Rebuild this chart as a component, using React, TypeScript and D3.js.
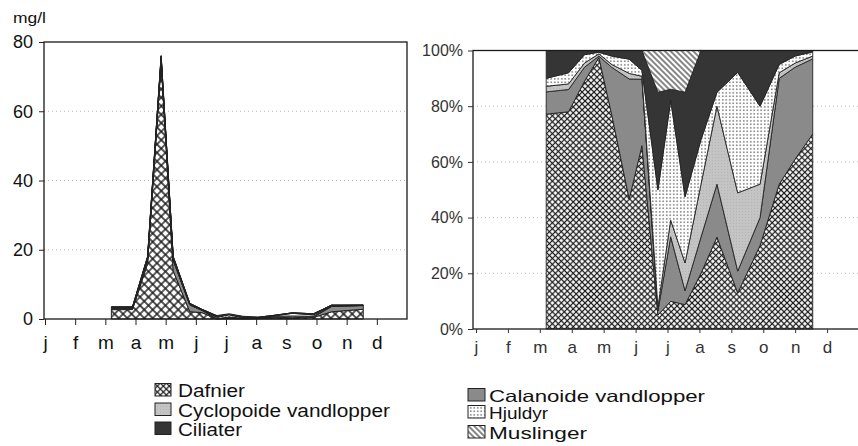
import React, { useRef, useEffect } from 'react';
import * as d3 from 'd3';

// sample dates as fractional months (0 = 1 Jan)
const sampleMonths = [2.2, 2.9, 3.4, 3.85, 4.25, 4.8, 5.2, 5.7, 6.1, 6.55, 7.05, 7.55, 8.2, 8.9, 9.5, 10.0, 10.55];

// biomass, mg/l
const dafnier = [2.7, 2.73, 16.0, 74.1, 13.9, 2.1, 1.85, 0.05, 0.15, 0.07, 0.1, 0.33, 0.23, 0.45, 2.08, 2.44, 2.8];
const calanoide = [0.28, 0.28, 0.9, 0.38, 3.06, 1.94, 0.67, 0.015, 0.35, 0.04, 0.065, 0.19, 0.14, 0.15, 1.52, 1.32, 1.08];
const cyclopoide = [0.07, 0.07, 0.27, 0.61, 0.18, 0.09, 0.03, 0.015, 0.09, 0.08, 0.095, 0.28, 0.5, 0.18, 0.08, 0.06, 0.04];
const hjuldyr = [0.1, 0.14, 0.54, 0.46, 0.54, 0.23, 0.06, 0.42, 0.65, 0.19, 0.08, 0.05, 0.77, 0.42, 0.12, 0.1, 0.06];
const ciliater = [0.35, 0.28, 0.27, 0.46, 0.36, 0.14, 0.2, 0.35, 0.06, 0.3, 0.16, 0.15, 0.14, 0.3, 0.2, 0.08, 0.02];
const muslinger = [0, 0, 0, 0, 0, 0, 0, 0.15, 0.21, 0.12, 0, 0, 0, 0, 0, 0, 0];

const seriesNames = ['Dafnier', 'Calanoide vandlopper', 'Cyclopoide vandlopper', 'Hjuldyr', 'Ciliater', 'Muslinger'];
const months = ['j', 'f', 'm', 'a', 'm', 'j', 'j', 'a', 's', 'o', 'n', 'd'];
const mgTicks = [0, 20, 40, 60, 80];
const pctTicks = [0, 0.2, 0.4, 0.6, 0.8, 1];

const FONT = 'Liberation Sans, Arial, sans-serif';

const App = () => {
  const svgRef = useRef<SVGSVGElement>(null);

  useEffect(() => {
    const svg = d3.select(svgRef.current);
    svg.selectAll('*').remove();

    const defs = svg.append('defs');
    const lattice = (id: string, s: number, sw: number) => {
      const p = defs.append('pattern').attr('id', id)
        .attr('patternUnits', 'userSpaceOnUse')
        .attr('width', s).attr('height', s)
        .attr('patternTransform', 'rotate(45)');
      p.append('rect').attr('width', s).attr('height', s).attr('fill', '#fff');
      p.append('path').attr('d', `M0 ${s / 2}H${s}M${s / 2} 0V${s}`)
        .attr('stroke', '#1a1a1a').attr('stroke-width', sw);
    };
    lattice('dafL', 6, 1.4);
    lattice('dafR', 4.2, 1.2);

    const dots = defs.append('pattern').attr('id', 'dots')
      .attr('patternUnits', 'userSpaceOnUse').attr('width', 3.5).attr('height', 3.5);
    dots.append('rect').attr('width', 3.5).attr('height', 3.5).attr('fill', '#fff');
    dots.append('circle').attr('cx', 1.75).attr('cy', 1.75).attr('r', 0.75).attr('fill', '#333');

    const cyc = defs.append('pattern').attr('id', 'cyc')
      .attr('patternUnits', 'userSpaceOnUse').attr('width', 3).attr('height', 3);
    cyc.append('rect').attr('width', 3).attr('height', 3).attr('fill', '#c4c4c4');
    cyc.append('circle').attr('cx', 1.5).attr('cy', 1.5).attr('r', 0.6).attr('fill', '#b2b2b2');

    const musl = defs.append('pattern').attr('id', 'musl')
      .attr('patternUnits', 'userSpaceOnUse').attr('width', 4).attr('height', 4)
      .attr('patternTransform', 'rotate(45)');
    musl.append('rect').attr('width', 4).attr('height', 4).attr('fill', '#fff');
    musl.append('path').attr('d', 'M0 2H4').attr('stroke', '#444').attr('stroke-width', 1.3);

    const fillsL = ['url(#dafL)', '#8a8a8a', 'url(#cyc)', 'url(#dots)', '#353535', 'url(#musl)'];
    const fillsR = ['url(#dafR)', '#8a8a8a', 'url(#cyc)', 'url(#dots)', '#353535', 'url(#musl)'];

    const rows = sampleMonths.map((m, i) => ({
      m,
      'Dafnier': dafnier[i],
      'Calanoide vandlopper': calanoide[i],
      'Cyclopoide vandlopper': cyclopoide[i],
      'Hjuldyr': hjuldyr[i],
      'Ciliater': ciliater[i],
      'Muslinger': muslinger[i],
    }));

    // ---------- left chart: mg/l ----------
    const xL = d3.scaleLinear().domain([0, 12]).range([45, 407]);
    const yL = d3.scaleLinear().domain([0, 80]).range([319, 42]);

    const gL = svg.append('g');
    gL.selectAll('line.grid').data(mgTicks.slice(1, 4)).enter().append('line')
      .attr('x1', 44).attr('x2', 407)
      .attr('y1', d => yL(d)).attr('y2', d => yL(d))
      .attr('stroke', '#b8b8b8').attr('stroke-dasharray', '1,3');

    const stackL = d3.stack<any>().keys(seriesNames)(rows);
    const areaL = d3.area<any>()
      .x(d => xL(d.data.m)).y0(d => yL(d[0])).y1(d => yL(d[1]));
    gL.selectAll('path.layer').data(stackL).enter().append('path')
      .attr('d', d => areaL(d as any))
      .attr('fill', (d, i) => fillsL[i])
      .attr('stroke', '#222').attr('stroke-width', 1).attr('stroke-linejoin', 'round');

    gL.append('rect').attr('x', 44).attr('y', 42).attr('width', 363).attr('height', 277)
      .attr('fill', 'none').attr('stroke', '#1a1a1a').attr('stroke-width', 1.3);

    const axL = gL.append('g').attr('transform', 'translate(44,0)')
      .call(d3.axisLeft(yL).tickValues(mgTicks).tickSize(5).tickSizeOuter(0).tickPadding(6));
    const axBL = gL.append('g').attr('transform', 'translate(0,319)')
      .call(d3.axisBottom(xL).tickValues(d3.range(12)).tickFormat((d: any) => months[d])
        .tickSize(6).tickSizeOuter(0).tickPadding(11));
    [axL, axBL].forEach(a => {
      a.select('.domain').remove();
      a.selectAll('line').attr('stroke', '#222');
      a.selectAll('text').attr('font-family', FONT).attr('fill', '#111');
    });
    axL.selectAll('text').attr('font-size', 18);
    axBL.selectAll('text').attr('font-size', 19);

    gL.append('text').attr('x', 13).attr('y', 23).text('mg/l')
      .attr('font-family', FONT).attr('font-size', 15).attr('fill', '#111')
      .attr('textLength', 33).attr('lengthAdjust', 'spacingAndGlyphs');

    // ---------- right chart: share in % ----------
    const xR = d3.scaleLinear().domain([0, 12]).range([476, 859]);
    const yR = d3.scaleLinear().domain([0, 1]).range([329, 50.5]);

    const gR = svg.append('g');
    gR.selectAll('line.grid').data(pctTicks.slice(1, 5)).enter().append('line')
      .attr('x1', 473).attr('x2', 859)
      .attr('y1', d => yR(d)).attr('y2', d => yR(d))
      .attr('stroke', '#b8b8b8').attr('stroke-dasharray', '1,3');

    const stackR = d3.stack<any>().keys(seriesNames).offset(d3.stackOffsetExpand)(rows);
    const areaR = d3.area<any>()
      .x(d => xR(d.data.m)).y0(d => yR(d[0])).y1(d => yR(d[1]));
    gR.selectAll('path.layer').data(stackR).enter().append('path')
      .attr('d', d => areaR(d as any))
      .attr('fill', (d, i) => fillsR[i])
      .attr('stroke', '#222').attr('stroke-width', 0.9).attr('stroke-linejoin', 'round');

    gR.append('rect').attr('x', 473).attr('y', 50.5).attr('width', 386).attr('height', 278.5)
      .attr('fill', 'none').attr('stroke', '#1a1a1a').attr('stroke-width', 1.3);

    const axR = gR.append('g').attr('transform', 'translate(473,0)')
      .call(d3.axisLeft(yR).tickValues(pctTicks).tickFormat(d3.format('.0%') as any)
        .tickSize(5).tickSizeOuter(0).tickPadding(5));
    const axBR = gR.append('g').attr('transform', 'translate(0,329)')
      .call(d3.axisBottom(xR).tickValues(d3.range(12)).tickFormat((d: any) => months[d])
        .tickSize(4).tickSizeOuter(0).tickPadding(8));
    [axR, axBR].forEach(a => {
      a.select('.domain').remove();
      a.selectAll('line').attr('stroke', '#333');
      a.selectAll('text').attr('font-family', FONT).attr('fill', '#333').attr('font-size', 16);
    });
    axBR.selectAll('text').attr('font-size', 17);

    // ---------- legend ----------
    const legendItems = [
      { i: 0, x: 155, y: 397, w: 16, tx: 178, fs: 17.5, len: 67 },
      { i: 2, x: 155, y: 416.5, w: 16, tx: 178, fs: 17.5, len: 212 },
      { i: 4, x: 155, y: 435.5, w: 16, tx: 178, fs: 17.5, len: 64 },
      { i: 1, x: 468, y: 402, w: 17, tx: 489, fs: 16.5, len: 216 },
      { i: 3, x: 468, y: 419, w: 17, tx: 489, fs: 16.5, len: 59 },
      { i: 5, x: 468, y: 439, w: 17, tx: 489, fs: 16.5, len: 98 },
    ];
    const lg = svg.append('g');
    legendItems.forEach(it => {
      lg.append('rect').attr('x', it.x).attr('y', it.y - 13.5).attr('width', it.w).attr('height', 12.5)
        .attr('fill', fillsR[it.i]).attr('stroke', '#222').attr('stroke-width', 1);
      lg.append('text').attr('x', it.tx).attr('y', it.y).text(seriesNames[it.i])
        .attr('font-family', FONT).attr('font-size', it.fs).attr('fill', '#111')
        .attr('textLength', it.len).attr('lengthAdjust', 'spacingAndGlyphs');
    });
  }, []);

  return (
    <svg ref={svgRef} width={858} height={446}
      style={{ position: 'absolute', left: 0, top: 0, background: '#fff' }} />
  );
};

export default App;
